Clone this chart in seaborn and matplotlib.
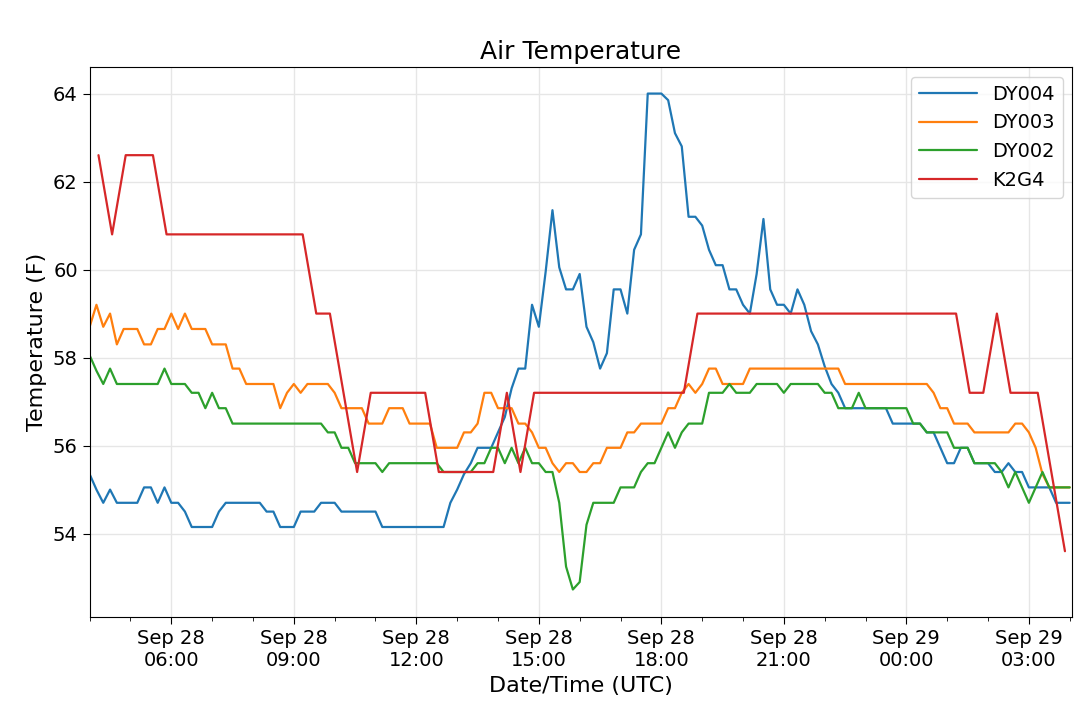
import numpy as np
import pandas as pd
import matplotlib
matplotlib.use("Agg")
import matplotlib.pyplot as plt
import matplotlib.dates as mdates
import seaborn as sns

def rep(v, n):
    return [v] * n

dy004 = ([55.35, 55.0, 54.7, 55.0, 54.7, 54.7, 54.7, 54.7, 55.05, 55.05, 54.7, 55.05, 54.7, 54.7, 54.5,
          54.15, 54.15, 54.15, 54.15, 54.5, 54.7, 54.7, 54.7, 54.7, 54.7, 54.7, 54.5, 54.5, 54.15, 54.15,
          54.15, 54.5, 54.5, 54.5, 54.7, 54.7, 54.7, 54.5, 54.5, 54.5, 54.5, 54.5, 54.5, 54.15]
         + rep(54.15, 9)
         + [54.7, 55.0, 55.35, 55.6, 55.95, 55.95, 55.95, 56.3, 56.65, 57.3, 57.75, 57.75, 59.2, 58.7,
            59.95, 61.35, 60.05, 59.55, 59.55, 59.9, 58.7, 58.35, 57.75, 58.1, 59.55, 59.55, 59.0, 60.45,
            60.8, 64.0, 64.0, 64.0, 63.85, 63.1, 62.8, 61.2, 61.2, 61.0, 60.45, 60.1, 60.1, 59.55, 59.55,
            59.2, 59.0, 59.9, 61.15, 59.55, 59.2, 59.2, 59.0, 59.55, 59.2, 58.6, 58.3, 57.8, 57.4, 57.2]
         + rep(56.85, 7) + rep(56.5, 5)
         + [56.3, 56.3, 55.95, 55.6, 55.6, 55.95, 55.95, 55.6, 55.6, 55.6, 55.4, 55.4, 55.6, 55.4, 55.4]
         + rep(55.05, 4) + rep(54.7, 3))

dy003 = ([58.7, 59.2, 58.7, 59.0, 58.3, 58.65, 58.65, 58.65, 58.3, 58.3, 58.65, 58.65, 59.0, 58.65, 59.0,
          58.65, 58.65, 58.65, 58.3, 58.3, 58.3, 57.75, 57.75, 57.4, 57.4, 57.4, 57.4, 57.4, 56.85, 57.2,
          57.4, 57.2, 57.4, 57.4, 57.4, 57.4, 57.2, 56.85, 56.85, 56.85, 56.85, 56.5, 56.5, 56.5, 56.85,
          56.85, 56.85, 56.5, 56.5, 56.5, 56.5, 55.95, 55.95, 55.95, 55.95, 56.3, 56.3, 56.5, 57.2, 57.2,
          56.85, 56.85, 56.85, 56.5, 56.5, 56.3, 55.95, 55.95, 55.6, 55.4, 55.6, 55.6, 55.4,
          55.4, 55.6, 55.6, 55.95, 55.95, 55.95, 56.3, 56.3]
         + rep(56.5, 4)
         + [56.85, 56.85, 57.2, 57.4, 57.2, 57.4, 57.75, 57.75] + rep(57.4, 4)
         + rep(57.75, 14) + rep(57.4, 13)
         + [57.2, 56.85, 56.85, 56.5, 56.5, 56.5] + rep(56.3, 6)
         + [56.5, 56.5, 56.3, 55.95, 55.35] + rep(55.05, 4))

dy002 = ([58.05, 57.7, 57.4, 57.75] + rep(57.4, 7)
         + [57.75, 57.4, 57.4, 57.4, 57.2, 57.2, 56.85, 57.2, 56.85, 56.85] + rep(56.5, 14)
         + [56.3, 56.3, 55.95, 55.95] + rep(55.6, 4) + [55.4] + rep(55.6, 8) + rep(55.4, 5)
         + [55.6, 55.6, 55.95, 55.95, 55.6, 55.95, 55.6, 55.95, 55.6, 55.6, 55.4, 55.4, 54.7, 53.25,
            52.73, 52.9, 54.2] + rep(54.7, 4) + rep(55.05, 3)
         + [55.4, 55.6, 55.6, 55.95, 56.3, 55.95, 56.3] + rep(56.5, 3) + rep(57.2, 3) + [57.4]
         + rep(57.2, 3) + rep(57.4, 4) + [57.2] + rep(57.4, 5) + [57.2, 57.2] + rep(56.85, 3)
         + [57.2] + rep(56.85, 7) + [56.5, 56.5] + rep(56.3, 4) + rep(55.95, 3) + rep(55.6, 4)
         + [55.4, 55.05, 55.4, 55.05, 54.7, 55.05, 55.4] + rep(55.05, 4))

k2g4 = ([62.6, 60.8, 62.6, 62.6, 62.6] + rep(60.8, 11) + [59.0, 59.0, 57.2, 55.4] + rep(57.2, 5)
        + rep(55.4, 5) + [57.2, 55.4] + rep(57.2, 12) + rep(59.0, 20) + [57.2, 57.2, 59.0]
        + rep(57.2, 3) + [55.4, 53.6])

start = pd.Timestamp("2018-09-28 04:00")
t_dy = pd.date_range(start, periods=len(dy004), freq="10min")
t_k = pd.date_range(start + pd.Timedelta("13min"), periods=len(k2g4), freq="20min")

df = pd.concat([
    pd.DataFrame({"time": t_dy, "temp": dy004, "station": "DY004"}),
    pd.DataFrame({"time": t_dy, "temp": dy003, "station": "DY003"}),
    pd.DataFrame({"time": t_dy, "temp": dy002, "station": "DY002"}),
    pd.DataFrame({"time": t_k, "temp": k2g4, "station": "K2G4"}),
])

sns.set_style("white")
plt.rcParams.update({"text.color": "black", "axes.labelcolor": "black",
                     "xtick.color": "black", "ytick.color": "black"})
fig = plt.figure(figsize=(10.8, 7.07), dpi=100)
ax = fig.add_axes([0.083, 0.127, 0.91, 0.778])
sns.lineplot(data=df, x="time", y="temp", hue="station", palette=["#1f77b4", "#ff7f0e", "#2ca02c", "#d62728"],
             linewidth=1.6, ax=ax)
ax.set_xlim(t_dy[0], t_dy[-1] + pd.Timedelta("4min"))
ax.set_ylim(52.1, 64.6)
ax.set_yticks([54, 56, 58, 60, 62, 64])
ax.xaxis.set_major_locator(mdates.HourLocator(byhour=[0, 3, 6, 9, 12, 15, 18, 21]))
ax.xaxis.set_minor_locator(mdates.HourLocator())
ax.xaxis.set_major_formatter(mdates.DateFormatter("%b %d\n%H:%M"))
ax.grid(True, which="major", color="#e6e6e6", linewidth=1)
for s in ax.spines.values():
    s.set_color("black")
    s.set_linewidth(0.8)
ax.tick_params(axis="both", which="major", labelsize=14, length=5, width=0.8, direction="out", bottom=True, left=True)
ax.tick_params(axis="x", which="minor", length=3, width=0.6, bottom=True)
ax.set_title("Air Temperature", fontsize=18)
ax.set_xlabel("Date/Time (UTC)", fontsize=16)
ax.set_ylabel("Temperature (F)", fontsize=16)
ax.legend(loc="upper right", fontsize=14, title=None, handlelength=3)
fig.savefig("out.png", dpi=100)
